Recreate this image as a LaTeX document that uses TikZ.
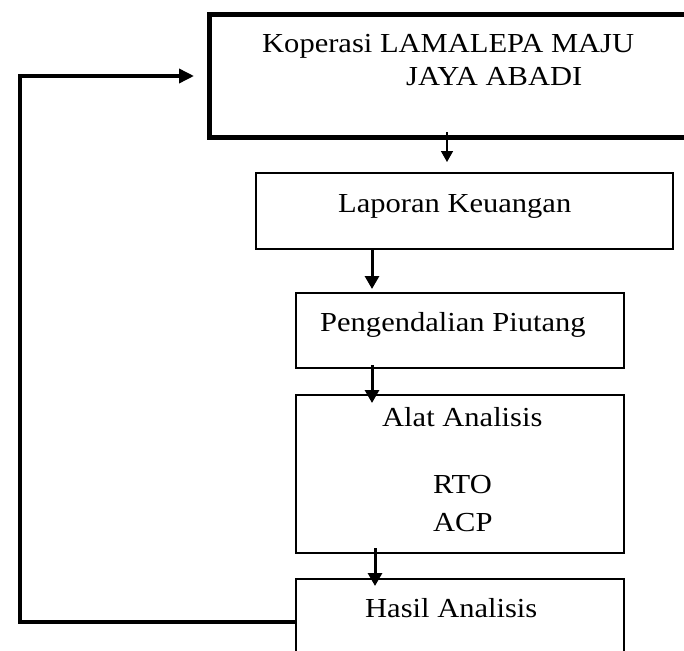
\documentclass[tikz,border=0pt]{standalone}
\usepackage{fontspec}
\setmainfont{Liberation Serif}[FakeStretch=1.11]
\usetikzlibrary{arrows.meta}
\begin{document}
\begin{tikzpicture}[x=1pt,y=-1pt,
  box/.style={draw, line width=1.2pt, inner sep=0pt, outer sep=0pt},
  topbox/.style={draw, line width=5pt, inner sep=0pt, outer sep=0pt},
  txt/.style={inner sep=0pt, anchor=base west, font=\fontsize{27.5}{32}\selectfont},
  flow/.style={line width=3pt, -{Triangle[length=13pt,width=14pt]}},
  thinflow/.style={line width=1.5pt, -{Triangle[length=11pt,width=12pt]}},
  back/.style={line width=3.5pt, -{Triangle[length=15pt,width=14pt]}, line join=miter}]
\useasboundingbox (0,0) rectangle (684,650);
\clip (0,0) rectangle (684,650);
\fill[white] (0,0) rectangle (684,650);
% boxes
\node[topbox, minimum width=482.5pt, minimum height=123pt] (kop) at (450.75,76) {};
\node[box, minimum width=417pt, minimum height=76pt] (lap) at (464.5,211) {};
\node[box, minimum width=328pt, minimum height=75pt] (peng) at (460,330.5) {};
\node[box, minimum width=328pt, minimum height=158pt] (alat) at (460,474) {};
\node[box, minimum width=328pt, minimum height=86pt] (hasil) at (460,622) {};
% texts
\node[txt] (t0a) at (262,53) {Koperasi LAMALEPA MAJU};
\node[txt] (t0b) at (406,85) {JAYA ABADI};
\node[txt] (t1) at (338,212) {Laporan Keuangan};
\node[txt] (t2) at (320,331) {Pengendalian Piutang};
\node[txt] (t3a) at (382,426) {Alat Analisis};
\node[txt] (t3b) at (433,493) {RTO};
\node[txt] (t3c) at (433,531) {ACP};
\node[txt] (t4) at (365,617) {Hasil Analisis};
% connectors
\draw[thinflow, shorten <=-5.5pt, shorten >=11pt] ([xshift=-3.75pt]kop.south) -- ([xshift=-17.5pt]lap.north);
\draw[flow, shorten >=4pt] ([xshift=-92.5pt]lap.south) -- ([xshift=-88pt]peng.north);
\draw[flow, shorten <=-3pt, shorten >=-8pt] ([xshift=-88pt]peng.south) -- ([xshift=-88pt]alat.north);
\draw[flow, shorten <=-5pt, shorten >=-7pt] ([xshift=-85pt]alat.south) -- ([xshift=-85pt]hasil.north);
\coordinate (corner) at (20,76);
\draw[back, shorten >=15.5pt] (hasil.west) -| (corner) -- (kop.west);
\end{tikzpicture}
\end{document}
